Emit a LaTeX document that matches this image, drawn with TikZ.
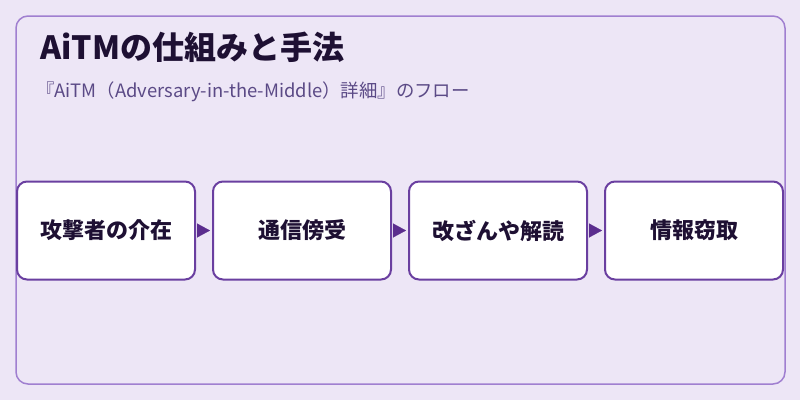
\documentclass[tikz,border=0pt]{standalone}
\usepackage{fontspec}
\setmainfont{Noto Sans CJK JP}
\usetikzlibrary{arrows.meta}
\definecolor{bgpurple}{HTML}{EDE6F6}
\definecolor{framepurple}{HTML}{A07FD0}
\definecolor{boxpurple}{HTML}{6A3FA0}
\definecolor{arrowpurple}{HTML}{5B2D8E}
\definecolor{titleink}{HTML}{1E1033}
\definecolor{subink}{HTML}{5B4A86}

\begin{document}
\begin{tikzpicture}[x=1pt,y=-1pt,
    stepbox/.style={draw=boxpurple, line width=2pt, fill=white, rounded corners=10pt,
        minimum width=178pt, minimum height=98pt, inner sep=0pt,
        font=\fontsize{22}{26}\selectfont\bfseries, text=titleink},
    flowarrow/.style={-{Triangle[length=13pt,width=14pt]}, arrowpurple, line width=0.1pt,
        shorten <=3pt, shorten >=2pt}]
            % Background and frame
            \useasboundingbox (0,0) rectangle (800,400);
            \fill[bgpurple] (0,0) rectangle (800,400);
            \draw[framepurple, line width=1.5pt, rounded corners=12pt] (16,16) rectangle (785,384);

            % Title
            \node[anchor=base west, inner sep=0pt, text=titleink, font=\fontsize{32}{36}\selectfont\bfseries]
                (title) at (40,59) {AiTMの仕組みと手法};
            \node[anchor=base west, inner sep=0pt, text=subink, font=\fontsize{18.4}{22}\selectfont]
                (subtitle) at (36,97) {『AiTM（Adversary-in-the-Middle）詳細』のフロー};

            % Steps
            \foreach \i/\label in {1/攻撃者の介在,2/通信傍受,3/改ざんや解読,4/情報窃取}
                \node[stepbox] (step\i) at ({106+196*(\i-1)},230.5) {\label};

            % Arrows
            \foreach \i/\j in {1/2,2/3,3/4}
                \draw[flowarrow] (step\i.east) -- (step\j.west);
        \end{tikzpicture}
\end{document}
